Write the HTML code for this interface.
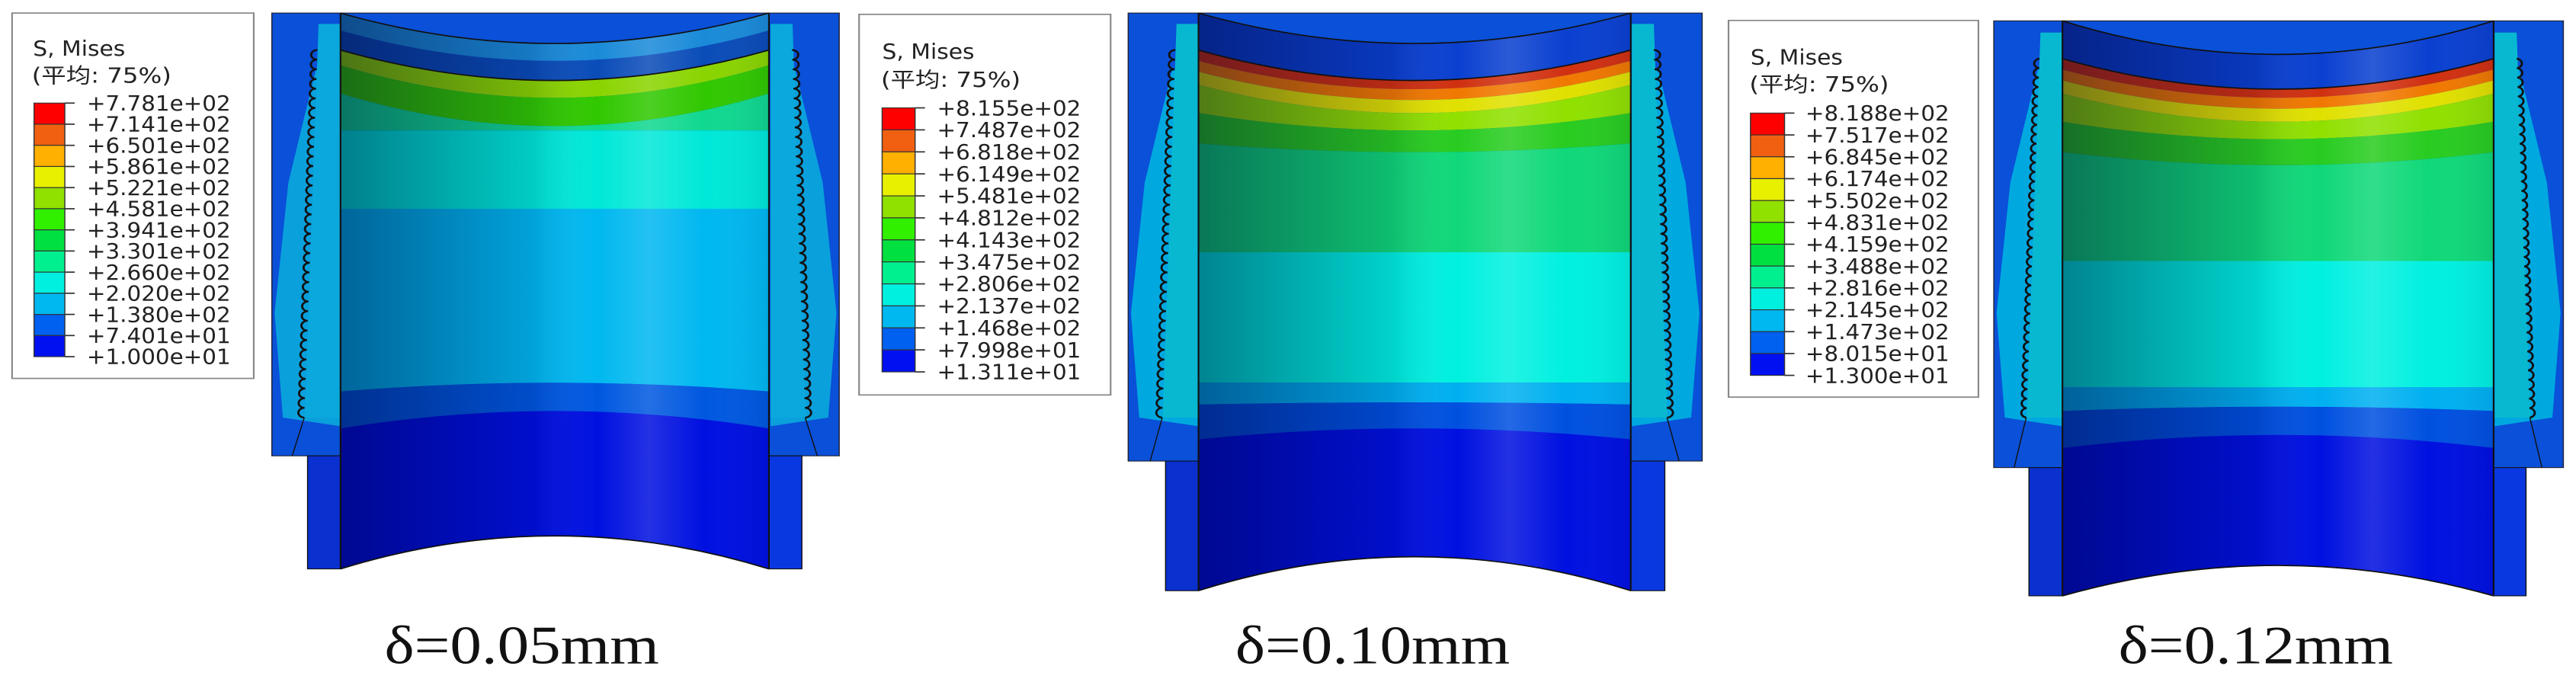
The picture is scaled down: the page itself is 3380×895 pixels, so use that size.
<!DOCTYPE html>
<html><head><meta charset="utf-8"><style>
html,body{margin:0;padding:0;background:#fff;}
#wrap{position:relative;width:3380px;height:895px;overflow:hidden;background:#fff;}
svg{position:absolute;top:0;}
</style></head><body><div id="wrap"></div>
<script>
function bandPath(xl,xr,a,b){var xc=(xl+xr)/2;
return 'M'+xl+' '+a[0]+' Q'+xc+' '+(2*a[1]-a[0])+' '+xr+' '+a[0]+' L'+xr+' '+b[0]+' Q'+xc+' '+(2*b[1]-b[0])+' '+xl+' '+b[0]+' Z';}
function curve(xl,xr,a){var xc=(xl+xr)/2;return 'M'+xl+' '+a[0]+' Q'+xc+' '+(2*a[1]-a[0])+' '+xr+' '+a[0];}
function thread(x0,y0,x1,y1){var n=Math.round((y1-y0)/22),s='M'+x0+' '+y0;
for(var i=0;i<n;i++){var x=x0+(x1-x0)*(i+1)/n,y=y0+(y1-y0)*(i+1)/n;s+=' A11 11 0 0 0 '+x.toFixed(1)+' '+y.toFixed(1);}return s;}
function threadR(x0,y0,x1,y1){var n=Math.round((y1-y0)/22),s='M'+x0+' '+y0;
for(var i=0;i<n;i++){var x=x0+(x1-x0)*(i+1)/n,y=y0+(y1-y0)*(i+1)/n;s+=' A11 11 0 0 1 '+x.toFixed(1)+' '+y.toFixed(1);}return s;}
var barCols=['#ff0000','#f06010','#ffb000','#e8f000','#90e000','#30f000','#00e040','#00f090','#00f0e0','#00b8f0','#0060f0','#0010f0'];
function panel(c,id){
var s='<svg width="1130" height="895" viewBox="0 0 1568 1568" preserveAspectRatio="none" style="left:'+c.off+'px">';
s+='<defs><linearGradient id="g'+id+'" x1="0" x2="1" y1="0" y2="0"><stop offset="0" stop-color="#000030" stop-opacity="0.45"/><stop offset="0.45" stop-color="#000030" stop-opacity="0.12"/><stop offset="0.6" stop-color="#fff" stop-opacity="0"/><stop offset="0.72" stop-color="#fff" stop-opacity="0.14"/><stop offset="0.85" stop-color="#fff" stop-opacity="0"/><stop offset="1" stop-color="#000030" stop-opacity="0.08"/></linearGradient></defs>';
var L=c.leg;
s+='<rect x="'+L[0]+'" y="'+L[1]+'" width="'+(L[2]-L[0])+'" height="'+(L[3]-L[1])+'" fill="#fff" stroke="#888" stroke-width="3"/>';
s+='<text x="'+c.tx+'" y="'+c.ty1+'" font-family="DejaVu Sans,sans-serif" font-size="48" fill="#222" textLength="168" lengthAdjust="spacingAndGlyphs">S, Mises</text>';
s+='<text x="'+(c.tx-2)+'" y="'+c.ty2+'" font-family="DejaVu Sans,Noto Sans CJK SC,sans-serif" font-size="48" fill="#222" textLength="254" lengthAdjust="spacingAndGlyphs">(平均: 75%)</text>';
var B=c.bar,h=(B[3]-B[2])/12;
for(var i=0;i<12;i++){s+='<rect x="'+B[0]+'" y="'+(B[2]+i*h)+'" width="'+(B[1]-B[0])+'" height="'+h+'" fill="'+barCols[i]+'" stroke="#333" stroke-width="2"/>';}
for(var i=0;i<13;i++){var y=B[2]+i*h;s+='<line x1="'+B[1]+'" x2="'+(B[1]+18)+'" y1="'+y+'" y2="'+y+'" stroke="#333" stroke-width="3"/>';
s+='<text x="'+c.lx+'" y="'+(y+17)+'" font-family="DejaVu Sans,sans-serif" font-size="48" fill="#222" textLength="262" lengthAdjust="spacingAndGlyphs">'+c.labels[i]+'</text>';}
var H=c.hous,I=c.inner,Y=c.cyl;
s+='<rect x="'+H[0]+'" y="'+H[1]+'" width="'+(H[2]-H[0])+'" height="'+(H[3]-H[1])+'" fill="#0a50d8" stroke="#223" stroke-width="2"/>';
var m=(H[0]+H[2])/2;
function mir(pts){return pts.map(function(p){return (2*m-p[0])+','+p[1];}).join(' ');}
var lp=[[H[0]+80,160],[I[0],150],[I[0],980],[H[0]+20,960],[H[0]+5,720],[H[0]+30,420]];
s+='<polygon points="'+lp.map(function(p){return p.join(',');}).join(' ')+'" fill="'+c.side+'"/>';
s+='<polygon points="'+mir(lp)+'" fill="'+c.side+'"/>';
var wp=[[I[0]-40,I[3]-60],[I[0],I[3]-60],[I[0],960],[I[0]-65,960]];
s+='<polygon points="'+wp.map(function(p){return p.join(',');}).join(' ')+'" fill="'+c.wall+'"/>';
s+='<polygon points="'+mir(wp)+'" fill="'+c.wall+'"/>';
s+='<polygon points="'+Y[0]+','+H[3]+' '+I[0]+','+H[3]+' '+I[0]+','+Y[2]+' '+Y[0]+','+Y[2]+'" fill="#0a30d0" stroke="#111" stroke-width="2"/>';
s+='<polygon points="'+Y[1]+','+H[3]+' '+I[1]+','+H[3]+' '+I[1]+','+Y[2]+' '+Y[1]+','+Y[2]+'" fill="#0a38e0" stroke="#111" stroke-width="2"/>';
var bd=c.bounds;
for(var i=0;i<bd.length-1;i++){s+='<path d="'+bandPath(I[0],I[1],bd[i],bd[i+1])+'" fill="'+c.cols[i]+'"/>';}
s+='<path d="'+bandPath(I[0],I[1],bd[0],bd[bd.length-1])+'" fill="url(#g'+id+')"/>';
s+='<path d="'+curve(I[0],I[1],bd[0])+'" fill="none" stroke="#111" stroke-width="3"/>';
s+='<path d="'+curve(I[0],I[1],c.blk)+'" fill="none" stroke="#111" stroke-width="3"/>';
s+='<path d="'+curve(I[0],I[1],bd[bd.length-1])+'" fill="none" stroke="#111" stroke-width="3"/>';
s+='<line x1="'+I[0]+'" x2="'+I[0]+'" y1="'+bd[0][0]+'" y2="'+Y[2]+'" stroke="#111" stroke-width="3"/>';
s+='<line x1="'+I[1]+'" x2="'+I[1]+'" y1="'+bd[0][0]+'" y2="'+Y[2]+'" stroke="#111" stroke-width="3"/>';
s+='<path d="'+thread(I[0]-42,I[3],I[0]-66,960)+'" fill="none" stroke="#111" stroke-width="4"/>';
s+='<path d="'+threadR(I[1]+42,I[3],I[1]+66,960)+'" fill="none" stroke="#111" stroke-width="4"/>';
s+='<line x1="'+(I[0]-66)+'" y1="960" x2="'+(I[0]-88)+'" y2="'+H[3]+'" stroke="#111" stroke-width="2"/>';
s+='<line x1="'+(I[1]+66)+'" y1="960" x2="'+(I[1]+88)+'" y2="'+H[3]+'" stroke="#111" stroke-width="2"/>';
s+='<text x="'+c.dx+'" y="1525" font-family="Liberation Serif,serif" font-size="125" fill="#111" textLength="500" lengthAdjust="spacingAndGlyphs">'+c.dl+'</text>';
return s+'</svg>';}
var colsB=['#0a40d0','#d03010','#f07800','#e0e000','#90e000','#28cc20','#10d878','#00f0e0','#00b0f0','#0050e0','#0010e0'];
var P=[
{off:0,leg:[22,30,462,870],tx:60,ty1:128,ty2:190,bar:[62,118,237,820],lx:158,
labels:['+7.781e+02','+7.141e+02','+6.501e+02','+5.861e+02','+5.221e+02','+4.581e+02','+3.941e+02','+3.301e+02','+2.660e+02','+2.020e+02','+1.380e+02','+7.401e+01','+1.000e+01'],
hous:[495,30,1528,1048],inner:[620,1400,0,115],cyl:[560,1460,1308],side:'#0aa0dc',wall:'#0aa8dc',
bounds:[[30,100],[70,140],[115,185],[150,225],[215,290],[300,300],[480,480],[900,880],[985,945],[1308,1232]],
cols:['#1a8ad8','#0a4cb8','#8ad400','#30c800','#10d890','#00e8d8','#00b8f0','#0058e0','#0010e0'],blk:[115,185],dx:700,dl:'δ=0.05mm'},
{off:1120,leg:[10,33,468,908],tx:52,ty1:135,ty2:200,bar:[52,112,248,855],lx:152,
labels:['+8.155e+02','+7.487e+02','+6.818e+02','+6.149e+02','+5.481e+02','+4.812e+02','+4.143e+02','+3.475e+02','+2.806e+02','+2.137e+02','+1.468e+02','+7.998e+01','+1.311e+01'],
hous:[500,30,1545,1060],inner:[628,1415,0,115],cyl:[568,1477,1358],side:'#00a8e0',wall:'#08b8d0',
bounds:[[30,100],[115,185],[140,205],[165,230],[195,260],[260,300],[330,350],[580,580],[880,880],[930,925],[1010,985],[1358,1280]],
cols:colsB,blk:[115,185],dx:695,dl:'δ=0.10mm'},
{off:2250,leg:[25,47,480,913],tx:65,ty1:148,ty2:210,bar:[65,127,260,863],lx:165,
labels:['+8.188e+02','+7.517e+02','+6.845e+02','+6.174e+02','+5.502e+02','+4.831e+02','+4.159e+02','+3.488e+02','+2.816e+02','+2.145e+02','+1.473e+02','+8.015e+01','+1.300e+01'],
hous:[508,48,1545,1075],inner:[633,1418,0,135],cyl:[572,1477,1370],side:'#00a8e0',wall:'#08b8d0',
bounds:[[48,125],[135,205],[160,225],[185,250],[215,280],[280,320],[350,380],[600,600],[890,890],[945,935],[1030,1000],[1370,1300]],
cols:colsB,blk:[135,205],dx:735,dl:'δ=0.12mm'}];
var html='';P.forEach(function(c,i){html+=panel(c,i);});
document.getElementById('wrap').innerHTML=html;
</script></body></html>
